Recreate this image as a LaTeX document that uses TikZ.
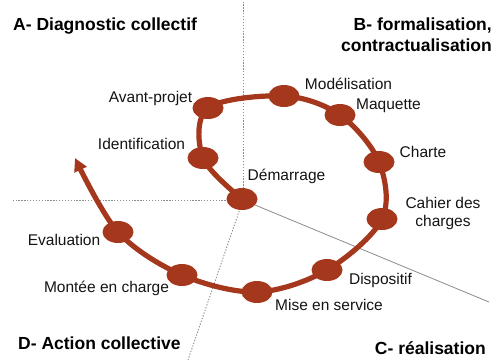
\documentclass[tikz,border=0pt]{standalone}
\usepackage{fontspec}
\setmainfont{Liberation Sans}
\usetikzlibrary{arrows.meta,shapes.geometric}
\definecolor{spiralred}{HTML}{A5371D}
\definecolor{axisgray}{HTML}{8C8C8C}
\begin{document}
\begin{tikzpicture}[x=1pt,y=-1pt,
  spiral/.style={draw=spiralred, line width=5.2pt, line cap=round, -{Triangle[length=13pt,width=13pt]}},
  stage/.style={shape=ellipse, fill=spiralred, minimum width=31pt, minimum height=22pt, inner sep=0pt},
  lbl/.style={font=\fontsize{15.5}{18}\selectfont, anchor=mid, inner sep=0pt, text=black!92},
  head/.style={font=\fontsize{17.5}{21}\selectfont\bfseries, inner sep=0pt},
  axisdot/.style={draw=axisgray, line width=0.9pt, dash pattern=on 1.3pt off 1.6pt},
  axissolid/.style={draw=axisgray, line width=0.8pt}
]
\useasboundingbox (0,0) rectangle (497,360);
\fill[white] (0,0) rectangle (497,360);

% axes
\coordinate (O) at (243,200);
\coordinate (axtop) at (243,2);
\coordinate (axleft) at (12,200);
\coordinate (axll) at (188,360);
\coordinate (axlr) at (489,302);
\draw[axisdot] (O) -- (axtop);
\draw[axisdot] (O) -- (axleft);
\draw[axisdot] (O) -- (axll);
\draw[axissolid] (O) -- (axlr);

% stage positions
\coordinate (pdem) at (242,199);
\coordinate (pide) at (203,158);
\coordinate (pava) at (208,108);
\coordinate (pmod) at (284,96);
\coordinate (pmaq) at (340,115);
\coordinate (pcha) at (379,162);
\coordinate (pcah) at (382,219);
\coordinate (pdis) at (327,270);
\coordinate (pmis) at (257,292);
\coordinate (pmon) at (182,275);
\coordinate (peva) at (118,232);
\coordinate (ptip) at (75,158);

\draw[spiral] plot[smooth, tension=0.55] coordinates {(pdem) (pide) (pava) (pmod) (pmaq) (pcha) (pcah) (pdis) (pmis) (pmon) (peva) (ptip)};

\node[stage] (dem) at (pdem) {};
\node[stage] (ide) at (pide) {};
\node[stage] (ava) at (pava) {};
\node[stage] (mod) at (pmod) {};
\node[stage] (maq) at (pmaq) {};
\node[stage] (cha) at (pcha) {};
\node[stage] (cah) at (pcah) {};
\node[stage] (dis) at (pdis) {};
\node[stage] (mis) at (pmis) {};
\node[stage] (mon) at (pmon) {};
\node[stage] (eva) at (peva) {};

% stage labels
\node[lbl] (tava) at (150.5,100) {Avant-projet};
\node[lbl] (tide) at (141.5,147) {Identification};
\node[lbl] (tmod) at (348.5,87) {Modélisation};
\node[lbl] (tmaq) at (388.5,107) {Maquette};
\node[lbl] (tcha) at (423,155) {Charte};
\node[lbl] (tdem) at (286.5,178) {Démarrage};
\node[lbl, align=center, anchor=center] (tcah) at (443,213) {Cahier des\\charges};
\node[lbl] (tdis) at (380.5,282) {Dispositif};
\node[lbl] (tmis) at (329,308) {Mise en service};
\node[lbl] (tmon) at (106.5,290) {Montée en charge};
\node[lbl] (teva) at (64,243) {Evaluation};

% quadrant headings
\node[head, anchor=mid west] (hA) at (13,28) {A- Diagnostic collectif};
\node[head, anchor=north east, align=right] (hB) at (492,18) {B- formalisation,\\contractualisation};
\node[head, anchor=mid east] (hC) at (486,352) {C- réalisation};
\node[head, anchor=mid west] (hD) at (18,347) {D- Action collective};
\end{tikzpicture}
\end{document}
